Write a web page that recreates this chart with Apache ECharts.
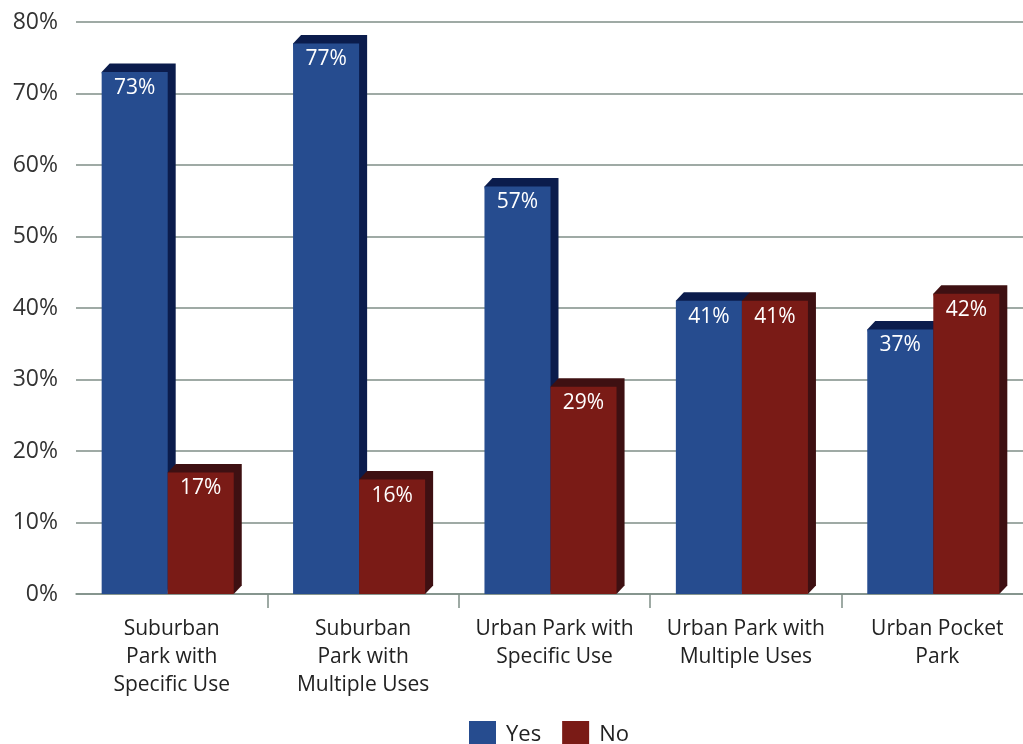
<!DOCTYPE html>
<html>
<head>
<meta charset="utf-8">
<title>Park preference</title>
<script src="https://cdn.jsdelivr.net/npm/echarts@6/dist/echarts.min.js"></script>
<style>
  html, body { margin: 0; padding: 0; background: #ffffff; }
  #chart { width: 1023px; height: 744px; }
</style>
</head>
<body>
<div id="chart"></div>
<script>
// Park types along the x axis
const categories = [
  'Suburban\nPark with\nSpecific Use',
  'Suburban\nPark with\nMultiple Uses',
  'Urban Park with\nSpecific Use',
  'Urban Park with\nMultiple Uses',
  'Urban Pocket\nPark'
];
// Share of answers, in percent
const yesValues = [73, 77, 57, 41, 37];
const noValues = [17, 16, 29, 41, 42];
const seriesNames = ['Yes', 'No'];

const FONT = '"Open Sans", "DejaVu Sans", sans-serif';
const GRID_COLOR = '#7f8e87';

// Face colours: front, top/side
const palette = [
  { front: '#264c8f', dark: '#0b1c4c' },
  { front: '#7a1b16', dark: '#3e1012' }
];

const DEPTH_X = 8;
const DEPTH_Y = 8.5;
const BAR_FRACTION = 0.345;

function makeRender(seriesIndex) {
  return function (params, api) {
    const idx = api.value(0);
    const val = api.value(1);
    const top = api.coord([idx, val]);
    const base = api.coord([idx, 0]);
    const catW = api.size([1, 0])[0];
    const barW = catW * BAR_FRACTION;
    const groupLeft = top[0] - (2 * barW + DEPTH_X) / 2;
    const l = groupLeft + seriesIndex * barW;
    const r = l + barW;
    const yt = top[1];
    const yb = base[1];
    const c = palette[seriesIndex];
    return {
      type: 'group',
      children: [
        {
          type: 'polygon',
          shape: {
            points: [
              [l, yt],
              [l + DEPTH_X, yt - DEPTH_Y],
              [r + DEPTH_X, yt - DEPTH_Y],
              [r + DEPTH_X, yb - DEPTH_Y],
              [r, yb]
            ]
          },
          style: { fill: c.dark }
        },
        {
          type: 'rect',
          shape: { x: l, y: yt, width: barW, height: yb - yt },
          style: { fill: c.front }
        },
        {
          type: 'text',
          style: {
            text: val + '%',
            x: (l + r) / 2,
            y: yt + 16,
            align: 'center',
            verticalAlign: 'middle',
            fill: '#ffffff',
            font: '21px ' + FONT
          }
        }
      ]
    };
  };
}

function toData(values) {
  return values.map((v, i) => [i, v]);
}

const chart = echarts.init(document.getElementById('chart'), null, { renderer: 'canvas' });

chart.setOption({
  animation: false,
  backgroundColor: '#ffffff',
  grid: {
    left: 76, top: 22, width: 957, height: 572,
    containLabel: false,
    outerBoundsMode: 'none'
  },
  legend: {
    data: seriesNames,
    top: 716,
    left: 464,
    itemWidth: 27,
    itemHeight: 27,
    itemGap: 21,
    icon: 'rect',
    textStyle: { fontFamily: FONT, fontSize: 22, color: '#222222', padding: [0, 0, 0, 5] }
  },
  xAxis: {
    type: 'category',
    data: categories,
    boundaryGap: true,
    axisLine: { show: true, lineStyle: { color: GRID_COLOR, width: 1.5 } },
    axisTick: {
      show: true,
      length: 14,
      interval: function (i) { return i > 0; },
      lineStyle: { color: GRID_COLOR, width: 1.5 }
    },
    axisLabel: {
      margin: 21,
      color: '#222222',
      fontFamily: FONT,
      fontSize: 21,
      lineHeight: 28,
      interval: 0
    }
  },
  yAxis: {
    type: 'value',
    min: 0,
    max: 80,
    interval: 10,
    axisLine: { show: false },
    axisTick: { show: false },
    splitLine: { lineStyle: { color: GRID_COLOR, width: 1.5 } },
    axisLabel: {
      formatter: '{value}%',
      margin: 18,
      color: '#333333',
      fontFamily: FONT,
      fontSize: 23
    }
  },
  series: [
    {
      name: seriesNames[0],
      type: 'custom',
      renderItem: makeRender(0),
      itemStyle: { color: palette[0].front },
      encode: { x: 0, y: 1 },
      data: toData(yesValues),
      z: 2
    },
    {
      name: seriesNames[1],
      type: 'custom',
      renderItem: makeRender(1),
      itemStyle: { color: palette[1].front },
      encode: { x: 0, y: 1 },
      data: toData(noValues),
      z: 3
    }
  ]
});
</script>
</body>
</html>
